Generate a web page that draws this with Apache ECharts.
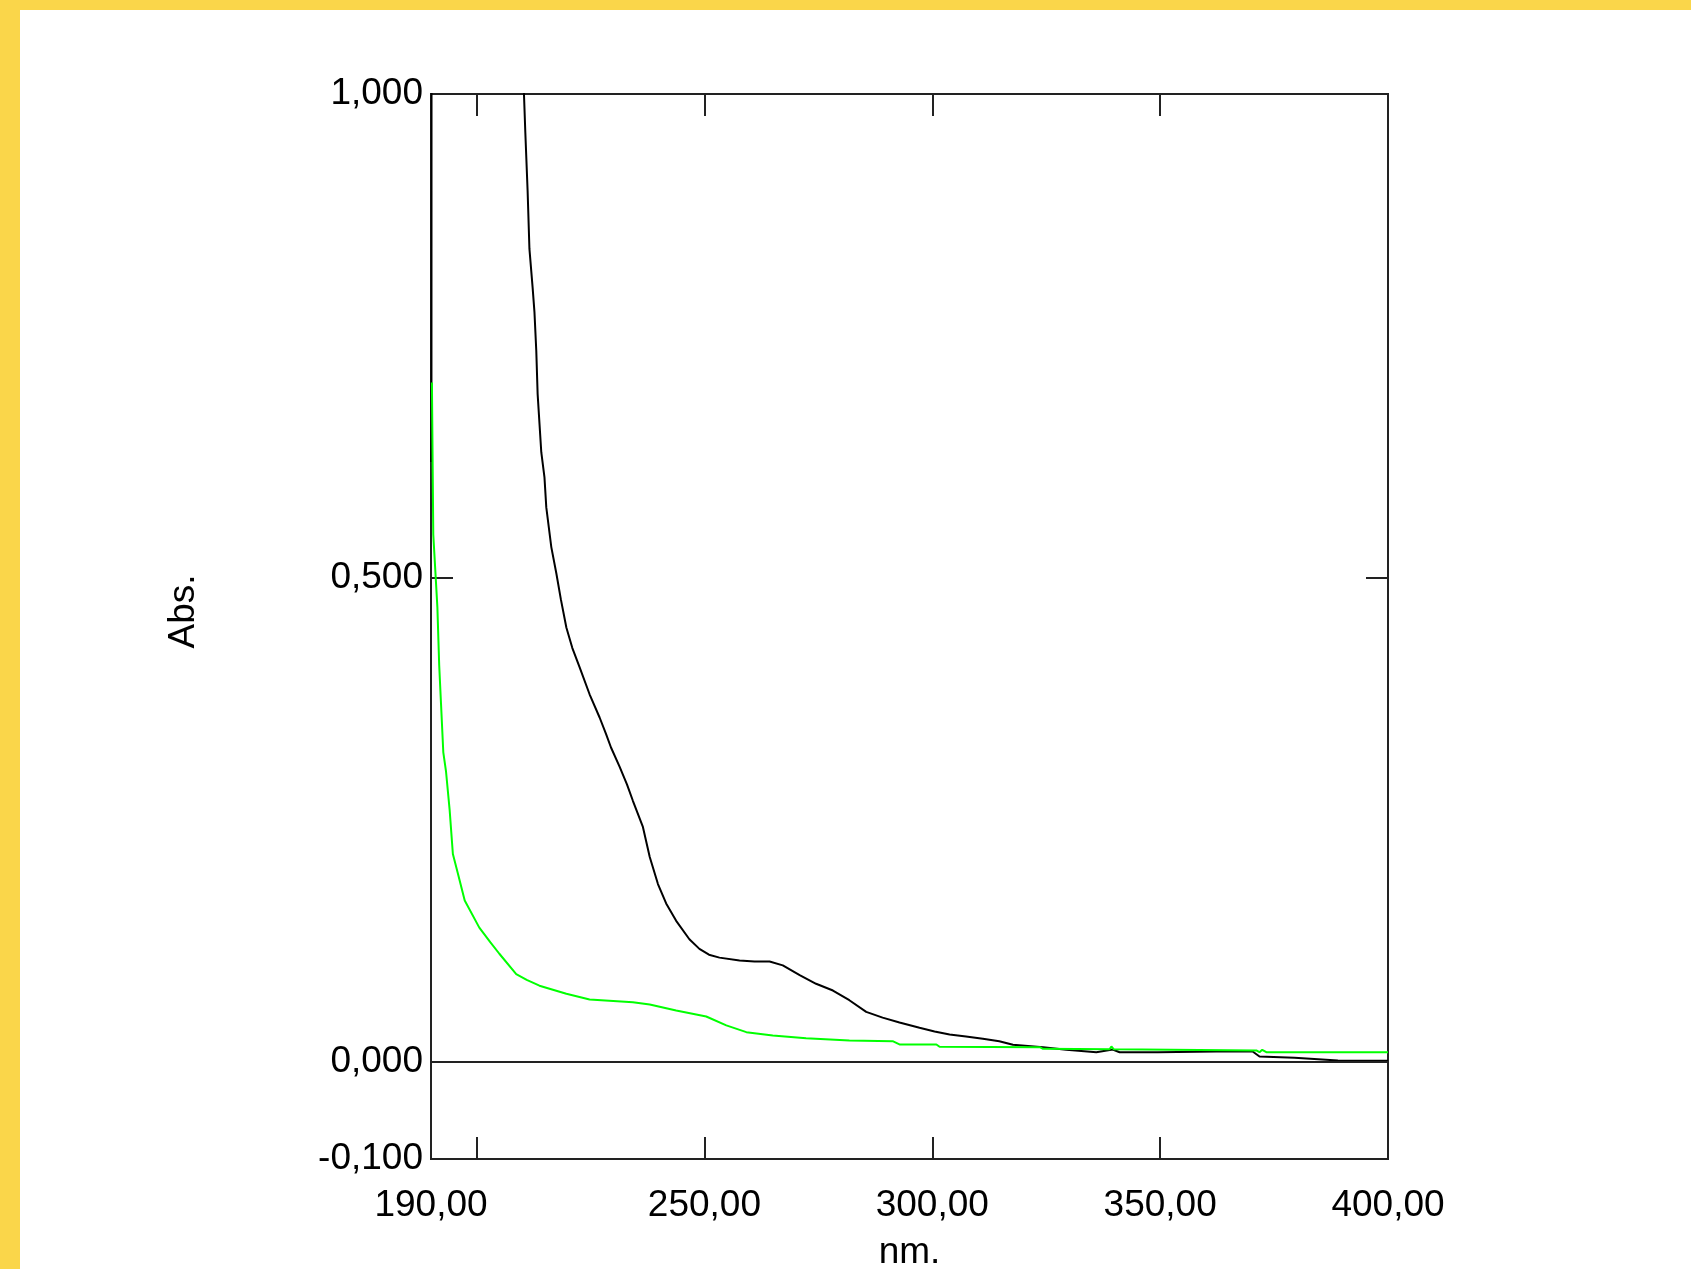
<!DOCTYPE html>
<html>
<head>
<meta charset="utf-8">
<script src="https://cdn.jsdelivr.net/npm/echarts@6/dist/echarts.min.js"></script>
<style>
  html, body { margin: 0; padding: 0; background: #ffffff; }
  #wrap { position: relative; width: 1691px; height: 1269px; overflow: hidden; background: #ffffff; }
  .bar { position: absolute; background: #FAD64A; }
  #chart { position: absolute; left: 0; top: 0; width: 1691px; height: 1269px; }
</style>
</head>
<body>
<div id="wrap">
  <div class="bar" style="left:0;top:0;width:1691px;height:10px;"></div>
  <div class="bar" style="left:0;top:0;width:20px;height:1269px;"></div>
  <div id="chart"></div>
</div>
<script>
// ---- data ----
const xLabelValues = [190, 250, 300, 350, 400];
const xTickValues = [200, 250, 300, 350];
const yLabelValues = [-0.1, 0, 0.5, 1.0];
const yTickValues = [0.5];
const xName = 'nm.';
const yName = 'Abs.';

// black spectrum [nm, Abs]
const blackSeries = [
  [190, 0.620], [190.1, 0.663], [190.2, 3.0], [205, 2.0], [210, 1.05], [210.4, 1.0],
  [210.7, 0.96], [211.2, 0.90], [211.6, 0.84], [212.3, 0.80], [212.7, 0.775],
  [213.1, 0.735], [213.4, 0.69], [214.2, 0.63], [214.9, 0.604], [215.3, 0.573],
  [216.4, 0.532], [217.5, 0.505], [218.5, 0.478], [219.7, 0.449], [221, 0.428],
  [222.6, 0.408], [224.8, 0.380], [227.0, 0.356], [228.4, 0.339], [229.5, 0.325],
  [231.4, 0.305], [233, 0.287], [234.3, 0.270], [236.5, 0.243], [238.0, 0.212],
  [239.8, 0.184], [241.6, 0.164], [243.8, 0.146], [246.7, 0.127], [248.9, 0.117],
  [251, 0.111], [253.3, 0.108], [257.7, 0.105], [261, 0.104], [264.3, 0.104],
  [267.2, 0.100], [270.9, 0.090], [274.5, 0.081], [278.2, 0.074], [281.8, 0.064],
  [285.5, 0.052], [289.1, 0.046], [292.8, 0.041], [297.2, 0.0355], [300.5, 0.0317],
  [303.8, 0.0286], [307.4, 0.0265], [311.1, 0.0242], [314.7, 0.0217], [317.7, 0.018],
  [324.3, 0.0155], [329.4, 0.0128], [336, 0.0103], [339.6, 0.0131], [341.1, 0.0103],
  [349.5, 0.0103], [362.3, 0.011], [370.3, 0.011], [371.8, 0.0059], [379.5, 0.0045],
  [389, 0.0018], [400, 0.0015]
];

// green spectrum [nm, Abs]
const greenSeries = [
  [190.2, 0.702], [190.5, 0.545], [191.4, 0.47], [191.8, 0.41], [192.2, 0.37],
  [192.7, 0.32], [193.3, 0.30], [194.1, 0.260], [194.8, 0.215], [195.9, 0.195],
  [197.4, 0.167], [200.6, 0.139], [203, 0.124], [205.0, 0.112], [208.7, 0.091],
  [211, 0.085], [213.8, 0.079], [219.7, 0.0706], [224.8, 0.0648], [234.3, 0.062],
  [238.0, 0.0596], [243.8, 0.0534], [250.4, 0.0472], [254.8, 0.038], [259.2, 0.031],
  [265.0, 0.0276], [272.3, 0.0248], [281.8, 0.0224], [291.3, 0.0217], [292.8, 0.0183],
  [300.9, 0.0183], [301.6, 0.0159], [323.6, 0.0155], [324.3, 0.0138], [338.9, 0.0134],
  [339.3, 0.0162], [339.8, 0.0134], [371.1, 0.0121], [371.8, 0.0103], [372.4, 0.0128],
  [373.3, 0.0103], [400, 0.0103]
];

const FONT = 'Liberation Sans, Arial, sans-serif';
const FS = 37;
const fmtX = v => Number(v).toFixed(2).replace('.', ',');
const fmtY = v => Number(v).toFixed(3).replace('.', ',');

const chart = echarts.init(document.getElementById('chart'), null, { renderer: 'canvas' });

const xCommon = {
  type: 'value', min: 190, max: 400,
  axisLine: { show: false, onZero: false },
  splitLine: { show: false },
  axisTick: { show: true, inside: true, length: 22, customValues: xTickValues,
              lineStyle: { color: '#222', width: 2 } }
};
const yCommon = {
  type: 'value', min: -0.1, max: 1.0,
  axisLine: { show: false, onZero: false },
  splitLine: { show: false },
  axisTick: { show: true, inside: true, length: 22, customValues: yTickValues,
              lineStyle: { color: '#222', width: 2 } }
};

chart.setOption({
  animation: false,
  backgroundColor: 'transparent',
  grid: {
    left: 431, top: 94, right: 303, bottom: 110,
    containLabel: false, outerBoundsMode: 'none',
    show: true, borderColor: '#222', borderWidth: 2, backgroundColor: 'transparent'
  },
  xAxis: [
    Object.assign({}, xCommon, {
      position: 'bottom',
      name: xName, nameLocation: 'middle', nameGap: 75,
      nameTextStyle: { fontFamily: FONT, fontSize: FS, color: '#000' },
      axisLabel: { show: true, customValues: xLabelValues, formatter: fmtX, margin: 28,
                   fontFamily: FONT, fontSize: FS, color: '#000' }
    }),
    Object.assign({}, xCommon, {
      position: 'top', axisLabel: { show: false }
    })
  ],
  yAxis: [
    Object.assign({}, yCommon, {
      position: 'left',
      name: yName, nameLocation: 'middle', nameGap: 229, nameRotate: 90,
      nameTextStyle: { fontFamily: FONT, fontSize: FS, color: '#000', padding: [0, 0, 0, 30] },
      axisLabel: { show: true, customValues: yLabelValues, formatter: fmtY, margin: 8,
                   fontFamily: FONT, fontSize: FS, color: '#000' }
    }),
    Object.assign({}, yCommon, {
      position: 'right', axisLabel: { show: false }
    })
  ],
  series: [
    {
      type: 'line', name: 'black', data: blackSeries, xAxisIndex: 0, yAxisIndex: 0,
      showSymbol: false, symbol: 'none', smooth: false, clip: true,
      lineStyle: { color: '#000000', width: 2 },
      z: 2,
      markLine: {
        silent: true, symbol: 'none', label: { show: false },
        lineStyle: { color: '#222', width: 2, type: 'solid' },
        data: [{ yAxis: 0 }]
      }
    },
    {
      type: 'line', name: 'green', data: greenSeries, xAxisIndex: 0, yAxisIndex: 0,
      showSymbol: false, symbol: 'none', smooth: false, clip: true,
      lineStyle: { color: '#00ff00', width: 2 },
      z: 3
    }
  ]
});
</script>
</body>
</html>
